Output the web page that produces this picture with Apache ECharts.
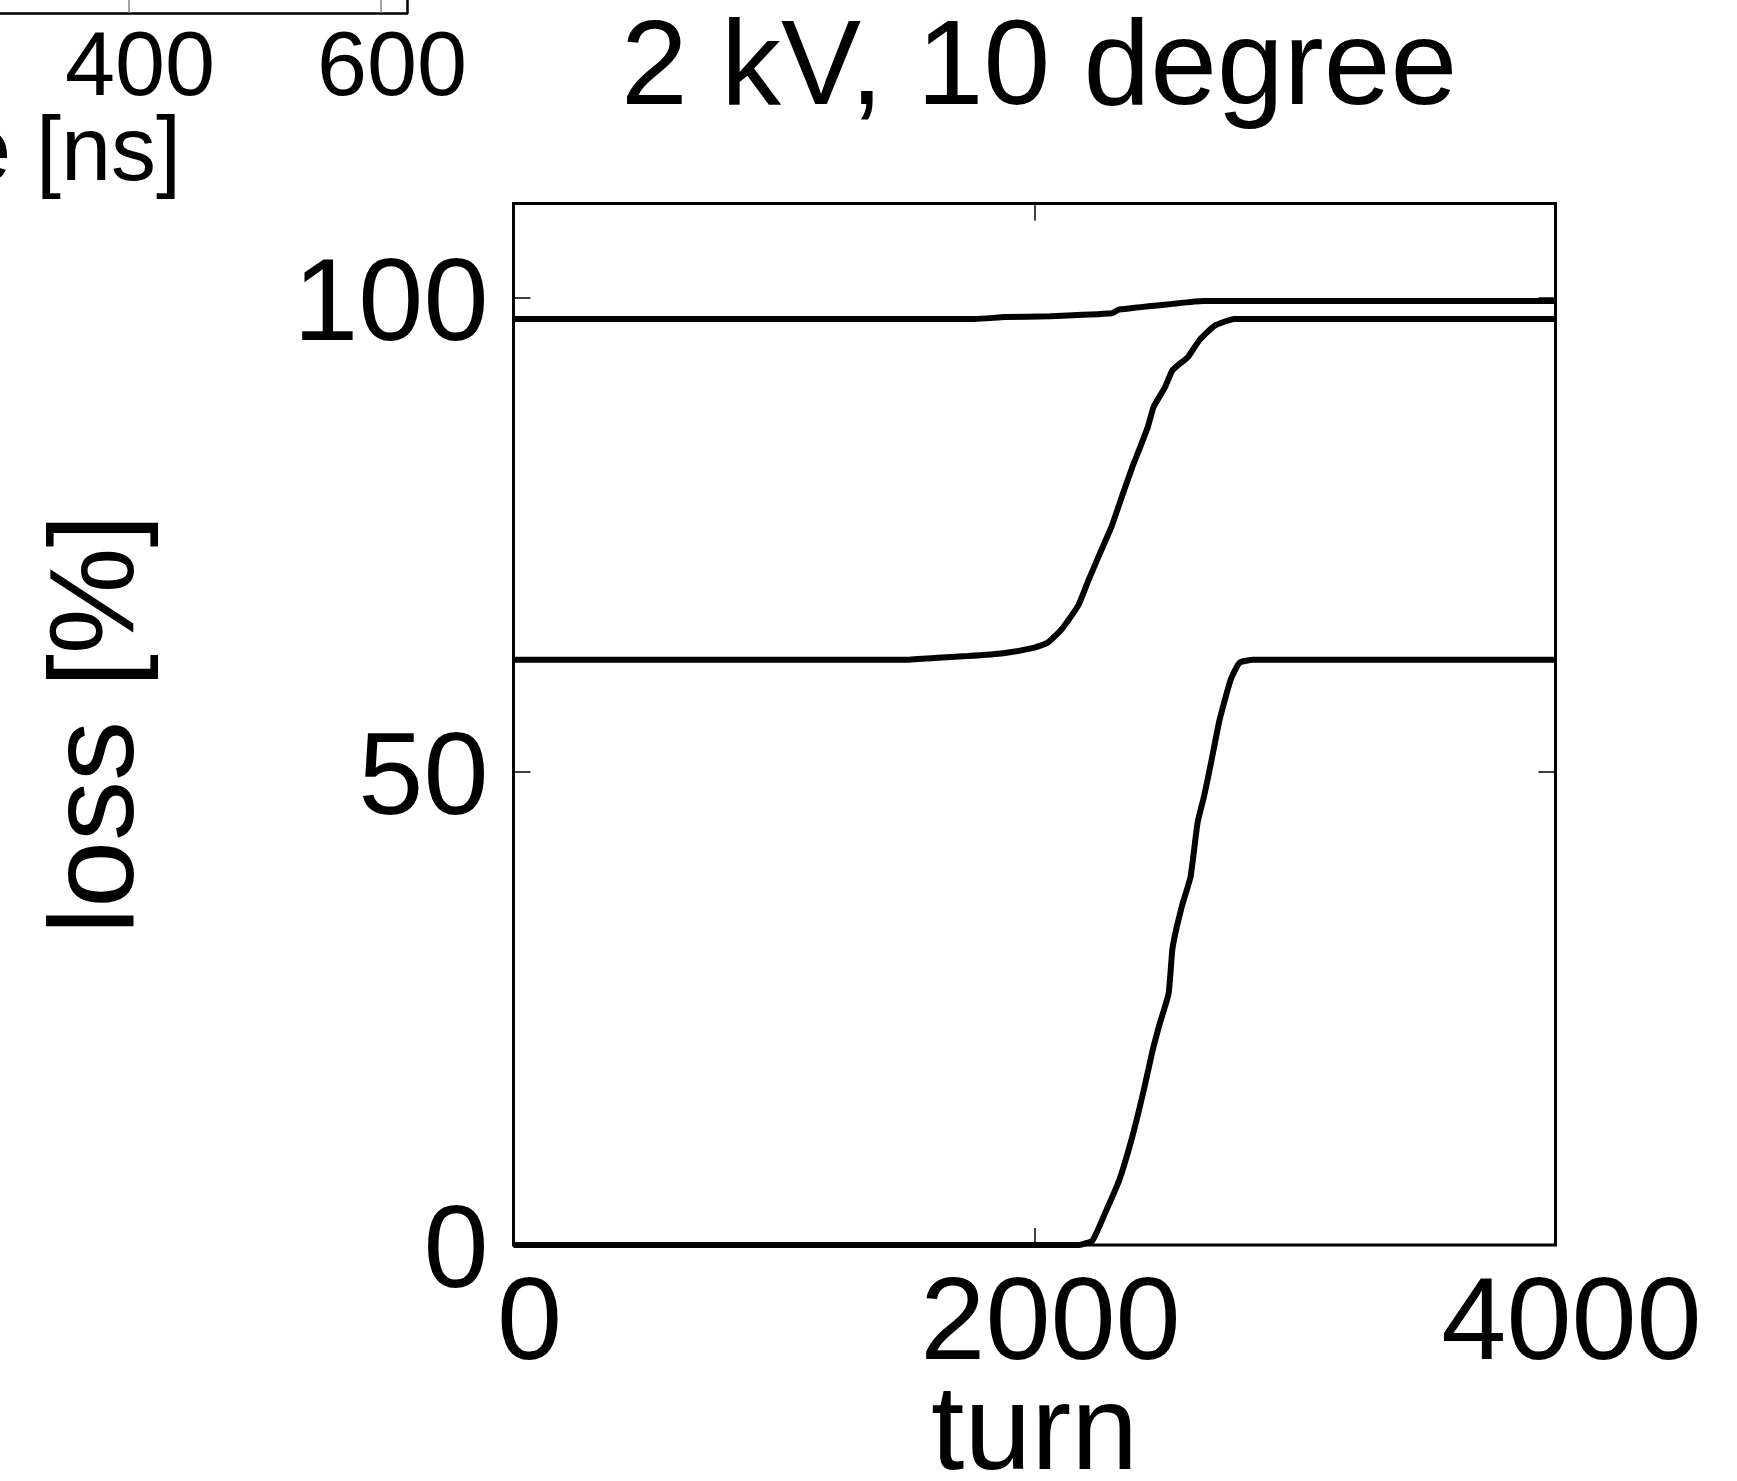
<!DOCTYPE html>
<html>
<head>
<meta charset="utf-8">
<script src="https://cdn.jsdelivr.net/npm/echarts@6/dist/echarts.min.js"></script>
<style>
  html, body { margin: 0; padding: 0; background: #fff; }
  #chart { width: 1737px; height: 1481px; }
</style>
</head>
<body>
<div id="chart"></div>
<script>
// loss curves (turn, loss %)
const turnA = [0, 1770, 1887, 2060, 2296, 2325, 2530, 2648, 4000];
const lossA = [97.8, 97.8, 98.0, 98.1, 98.4, 98.8, 99.4, 99.7, 99.7];

const turnB = [0, 1500, 1614, 1743, 1880, 2000, 2050, 2103, 2167, 2207, 2252, 2296, 2340, 2376,
  2406, 2435, 2457, 2501, 2530, 2589, 2634, 2692, 2766, 4000];
const lossB = [61.8, 61.8, 62.0, 62.2, 62.5, 63.1, 63.6, 65.0, 67.5, 70.2, 73.1, 75.9, 79.4, 82.2,
  84.3, 86.4, 88.5, 90.6, 92.4, 93.8, 95.6, 97.1, 97.8, 97.8];

const turnC = [0, 2171, 2223, 2273, 2326, 2376, 2419, 2453, 2480, 2515, 2530, 2564, 2599, 2626,
  2651, 2676, 2710, 2753, 2787, 2840, 4000];
const lossC = [0, 0, 0.5, 3.5, 6.9, 11.5, 16.3, 20.5, 23.3, 26.6, 31.4, 35.6, 38.9, 44.6,
  47.4, 50.7, 55.4, 59.7, 61.5, 61.8, 61.8];

const xTicks = [0, 2000, 4000];
const yTicks = [0, 50, 100];

// neighbouring panel, only its lower right corner is in view
const nbTicks = [400, 600];

const titleText = '2 kV, 10 degree';
const FONT = 'Liberation Sans, Arial, Helvetica, sans-serif';

const pairs = (xs, ys) => xs.map((x, i) => [x, ys[i]]);
const plain = (v) => String(v);

const chart = echarts.init(document.getElementById('chart'));

const tickStyle = { color: '#000', width: 1.5 };
const noLine = { show: false, onZero: false };

function lossSeries(xs, ys) {
  return {
    type: 'line',
    xAxisIndex: 0,
    yAxisIndex: 0,
    data: pairs(xs, ys),
    showSymbol: false,
    symbol: 'none',
    smooth: 0.15,
    lineStyle: { color: '#000', width: 6 },
    z: 3,
    silent: true,
  };
}

const option = {
  animation: false,
  backgroundColor: '#fff',
  title: {
    text: titleText,
    left: 1034,
    top: 6,
    textAlign: 'center',
    textStyle: { fontFamily: FONT, fontSize: 120, fontWeight: 'normal', color: '#000' },
  },
  grid: [
    {
      left: 513.5, top: 203.5, right: 181.5, bottom: 236,
      outerBoundsMode: 'none', containLabel: false,
      show: true, borderColor: '#000', borderWidth: 3, backgroundColor: 'transparent',
    },
    { left: 0, top: 0, width: 407, height: 13, outerBoundsMode: 'none', containLabel: false, show: false },
  ],
  xAxis: [
    {
      type: 'value', gridIndex: 0, min: 0, max: 4000, position: 'bottom',
      name: 'turn', nameLocation: 'middle', nameGap: 131, nameMoveOverlap: false,
      nameTextStyle: { fontFamily: FONT, fontSize: 120, color: '#000' },
      axisLine: noLine,
      axisTick: { show: true, inside: true, length: 17, lineStyle: tickStyle, customValues: xTicks },
      axisLabel: {
        fontFamily: FONT, fontSize: 117, color: '#000', margin: 23,
        padding: [0, 0, 0, 32], customValues: xTicks, formatter: plain,
      },
      splitLine: { show: false },
    },
    {
      type: 'value', gridIndex: 0, min: 0, max: 4000, position: 'top',
      axisLine: noLine,
      axisTick: { show: true, inside: true, length: 17, lineStyle: tickStyle, customValues: xTicks },
      axisLabel: { show: false },
      splitLine: { show: false },
    },
    {
      type: 'value', gridIndex: 1, min: 297.6, max: 620.6, position: 'bottom',
      axisLine: { show: true, onZero: false, lineStyle: { color: '#000', width: 2.5 } },
      axisTick: { show: true, inside: true, length: 13, lineStyle: { color: '#888', width: 1.5 }, customValues: nbTicks },
      axisLabel: {
        fontFamily: FONT, fontSize: 90, color: '#000', margin: 12,
        padding: [0, 0, 0, 22], customValues: nbTicks, formatter: plain,
      },
      splitLine: { show: false },
    },
  ],
  yAxis: [
    {
      type: 'value', gridIndex: 0, min: 0, max: 110, position: 'left',
      name: 'loss [%]', nameLocation: 'middle', nameGap: 354, nameRotate: 90, nameMoveOverlap: false,
      nameTextStyle: { fontFamily: FONT, fontSize: 120, color: '#000' },
      axisLine: noLine,
      axisTick: { show: true, inside: true, length: 17, lineStyle: tickStyle, customValues: yTicks },
      axisLabel: {
        margin: 25, customValues: yTicks,
        formatter: (v) => '{v|' + v + '}',
        rich: {
          v: { fontFamily: FONT, fontSize: 117, color: '#000', padding: [20, 0, 0, 0] },
        },
      },
      splitLine: { show: false },
    },
    {
      type: 'value', gridIndex: 0, min: 0, max: 110, position: 'right',
      axisLine: noLine,
      axisTick: { show: true, inside: true, length: 17, lineStyle: tickStyle, customValues: yTicks },
      axisLabel: { show: false },
      splitLine: { show: false },
    },
    {
      type: 'value', gridIndex: 1, min: 0, max: 1, position: 'right',
      axisLine: { show: true, onZero: false, lineStyle: { color: '#000', width: 2.5 } },
      axisTick: { show: false },
      axisLabel: { show: false },
      splitLine: { show: false },
    },
  ],
  graphic: [
    {
      type: 'text',
      right: 1737 - 181,
      top: 110,
      style: {
        text: 'time [ns]',
        font: '90px ' + FONT,
        fill: '#000',
        textAlign: 'right',
        textVerticalAlign: 'top',
      },
      silent: true,
    },
  ],
  series: [
    lossSeries(turnA, lossA),
    lossSeries(turnB, lossB),
    lossSeries(turnC, lossC),
  ],
};

chart.setOption(option);
</script>
</body>
</html>
